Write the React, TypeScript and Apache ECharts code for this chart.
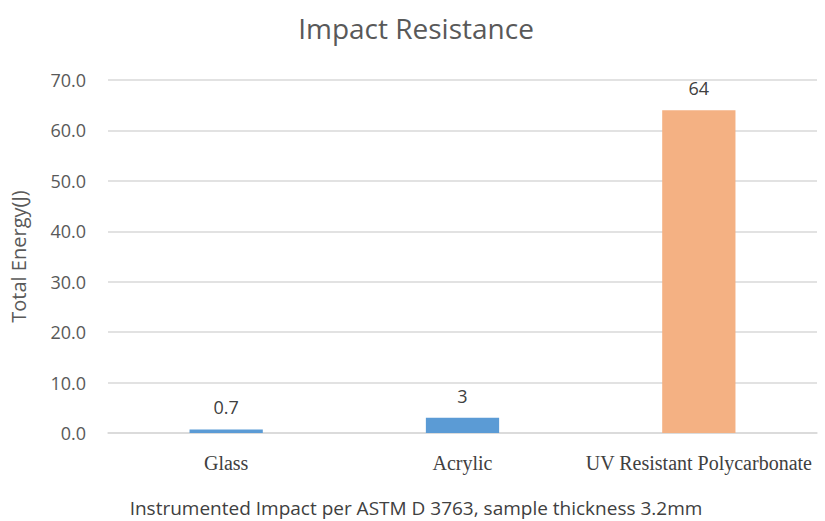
import React, { useEffect, useRef } from "react";
import * as echarts from "echarts";

const categories = ["Glass", "Acrylic", "UV Resistant Polycarbonate"];
const values = [0.7, 3, 64];
const barColors = ["#5B9BD5", "#5B9BD5", "#F4B183"];
const yTicks = { min: 0, max: 70, interval: 10 };
const titleText = "Impact Resistance";
const yAxisTitle = "Total Energy(J)";
const footnote = "Instrumented Impact per ASTM D 3763, sample thickness 3.2mm";

export default function App() {
  const ref = useRef<HTMLDivElement>(null);
  useEffect(() => {
    document.body.style.margin = "0";
    const chart = echarts.init(ref.current!, null, { renderer: "svg" });
    chart.setOption({
      animation: false,
      backgroundColor: "#ffffff",
      title: {
        text: titleText,
        left: 411,
        textAlign: "center",
        top: 9,
        textStyle: {
          fontFamily: "Open Sans",
          fontSize: 28,
          fontWeight: "normal",
          color: "#595959",
        },
      },
      grid: { left: 100, right: 8, top: 80, bottom: 88 },
      xAxis: {
        type: "category",
        data: categories,
        axisLine: { lineStyle: { color: "#D9D9D9", width: 1.5 } },
        axisTick: { show: false },
        axisLabel: {
          interval: 0,
          margin: 20,
          fontFamily: "Liberation Serif",
          fontSize: 20,
          color: "#404040",
        },
      },
      yAxis: {
        type: "value",
        min: yTicks.min,
        max: yTicks.max,
        interval: yTicks.interval,
        name: yAxisTitle,
        nameLocation: "middle",
        nameRotate: 90,
        nameGap: 80,
        nameTextStyle: { fontFamily: "Open Sans", fontSize: 20, color: "#595959" },
        axisLine: { show: false },
        axisTick: { show: false },
        splitLine: { lineStyle: { color: "#D9D9D9", width: 1.5 } },
        axisLabel: {
          margin: 22,
          fontFamily: "Open Sans",
          fontSize: 18,
          color: "#595959",
          formatter: (v: number) => v.toFixed(1),
        },
      },
      series: [
        {
          type: "bar",
          barWidth: "31%",
          data: values.map((v, i) => ({ value: v, itemStyle: { color: barColors[i] } })),
          label: {
            show: true,
            position: "top",
            distance: 13,
            fontFamily: "Open Sans",
            fontSize: 18,
            color: "#404040",
          },
        },
      ],
      graphic: [
        {
          type: "text",
          x: 416,
          y: 508,
          style: {
            text: footnote,
            fontFamily: "Open Sans",
            fontSize: 19,
            fill: "#404040",
            textAlign: "center",
            textVerticalAlign: "middle",
          },
        },
      ],
    });
    return () => chart.dispose();
  }, []);
  return <div ref={ref} style={{ width: 825, height: 521 }} />;
}
